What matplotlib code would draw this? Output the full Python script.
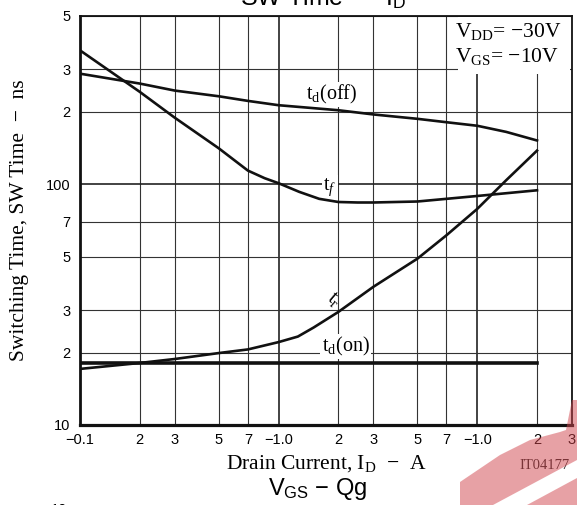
import matplotlib
matplotlib.use('Agg')
import matplotlib.pyplot as plt
from matplotlib.ticker import FixedLocator, FixedFormatter
from matplotlib.patches import Polygon, Rectangle

plt.rcParams['font.family'] = 'Liberation Sans'
plt.rcParams['mathtext.fontset'] = 'custom'
plt.rcParams['mathtext.rm'] = 'Liberation Serif'
plt.rcParams['mathtext.it'] = 'Liberation Serif:italic'
plt.rcParams['mathtext.sf'] = 'Liberation Sans'

MINUS = '\u2212'

# drain current (A, magnitude) and switching times (ns)
id_off = [0.1, 0.2, 0.3, 0.5, 0.7, 1.0, 2, 3, 5, 7, 10, 14, 20]
td_off = [288, 262, 245, 232, 222, 213, 203, 195, 187, 181, 175, 165, 152]

id_f = [0.1, 0.2, 0.3, 0.5, 0.7, 0.85, 1.0, 1.27, 1.6, 2, 2.5, 3, 5, 7, 10, 20]
t_f = [360, 242, 189, 141, 114, 106, 101, 93, 87, 84.4, 84, 84, 84.8, 87, 89.4, 94.4]

id_r = [0.1, 0.2, 0.3, 0.5, 0.7, 1.0, 1.25, 1.5, 2, 3, 5, 7, 10, 14, 20]
t_r = [17.1, 18.1, 18.8, 19.9, 20.6, 22.1, 23.3, 25.4, 29.5, 37.5, 49.1, 61.4, 79, 104, 138]

id_on = [0.1, 20]
td_on = [18.1, 18.1]

x_major = [0.1, 1, 10]
x_major_lab = [MINUS + '0.1', MINUS + '1.0', MINUS + '1.0']
x_minor = [0.2, 0.3, 0.5, 0.7, 2, 3, 5, 7, 20, 30]
x_minor_lab = ['2', '3', '5', '7', '2', '3', '5', '7', '2', '3']
y_major = [10, 100]
y_major_lab = ['10', '100']
y_minor = [20, 30, 50, 70, 200, 300, 500]
y_minor_lab = ['2', '3', '5', '7', '2', '3', '5']

W, H = 577, 505
def fx(px):
    return px / W
def fy(py):
    return 1 - py / H

fig = plt.figure(figsize=(W / 100, H / 100), dpi=100)
ax = fig.add_axes([fx(80), fy(425), (572 - 80) / W, (425 - 16) / H])
ax.set_xscale('log')
ax.set_yscale('log')
ax.set_xlim(0.1, 30)
ax.set_ylim(10, 500)

ax.xaxis.set_major_locator(FixedLocator(x_major))
ax.xaxis.set_major_formatter(FixedFormatter(x_major_lab))
ax.xaxis.set_minor_locator(FixedLocator(x_minor))
ax.xaxis.set_minor_formatter(FixedFormatter(x_minor_lab))
ax.yaxis.set_major_locator(FixedLocator(y_major))
ax.yaxis.set_major_formatter(FixedFormatter(y_major_lab))
ax.yaxis.set_minor_locator(FixedLocator(y_minor))
ax.yaxis.set_minor_formatter(FixedFormatter(y_minor_lab))
ax.tick_params(which='both', length=0, labelsize=10.5)
ax.tick_params(axis='x', which='both', pad=6)
ax.tick_params(axis='y', which='both', pad=7)

ax.set_axisbelow(True)
ax.grid(which='major', color='#222222', lw=1.2)
ax.grid(which='minor', color='#333333', lw=0.8)
for side, lw in [('left', 2.0), ('bottom', 2.3), ('top', 1.3), ('right', 1.3)]:
    ax.spines[side].set_linewidth(lw)
    ax.spines[side].set_color('#111111')

ax.plot(id_off, td_off, color='#111111', lw=1.9, zorder=4)
ax.plot(id_f, t_f, color='#111111', lw=1.9, zorder=4)
ax.plot(id_r, t_r, color='#111111', lw=1.9, zorder=4)
ax.plot(id_on, td_on, color='#111111', lw=2.6, zorder=4)

lab = dict(family='Liberation Serif', size=14.5, ha='center', va='center', zorder=3,
           bbox=dict(fc='white', ec='none', pad=1))
ax.text(1.85, 236, r'$\mathrm{t_d}$(off)', **lab)
ax.text(1.81, 97, r'$\mathrm{t}_{\mathit{f}}$', **lab)
ax.text(2.17, 21.2, r'$\mathrm{t_d}$(on)', **lab)
ax.text(1.89, 33, r'$\mathrm{t_r}$', family='Liberation Serif', size=14.5,
        ha='center', va='center', rotation=-40, zorder=3)

# condition box
fig.add_artist(Rectangle((fx(458), fy(74)), (570 - 458) / W, (74 - 17) / H,
                         transform=fig.transFigure, fc='white', ec='none', zorder=1))
fig.text(fx(455), fy(37), r'V$_{\mathrm{DD}}$= ' + MINUS + '30V', family='Liberation Serif',
         size=15.5, ha='left', va='baseline')
fig.text(fx(455), fy(62), r'V$_{\mathrm{GS}}$= ' + MINUS + '10V', family='Liberation Serif',
         size=15.5, ha='left', va='baseline')

fig.text(fx(20), fy(220), 'Switching Time, SW Time  ' + MINUS + '  ns', rotation=90,
         family='Liberation Serif', size=15.5, ha='center', va='center')
fig.text(fx(326), fy(469), r'Drain Current, I$_{\mathrm{D}}$  ' + MINUS + '  A',
         family='Liberation Serif', size=15.5, ha='center', va='baseline')
fig.text(fx(570), fy(469), 'IT04177', family='Liberation Serif', size=10.5,
         color='#222222', ha='right', va='baseline')

# cropped neighbouring titles
fig.text(fx(240), fy(5), r'SW Time  ' + MINUS + r'  I$_{\mathsf{D}}$', size=18,
         ha='left', va='baseline')
fig.text(fx(268), fy(495), r'V$_{\mathsf{GS}}$ ' + MINUS + ' Qg', size=17,
         ha='left', va='baseline')
fig.text(fx(59), fy(503), '10', size=10.5, ha='center', va='top')

# watermark remnant
wm1 = [(460, 505), (460, 482), (500, 455), (530, 440), (560, 432), (566, 430),
       (572, 400), (577, 400), (577, 460), (493, 505)]
wm2 = [(527, 505), (577, 478), (577, 505)]
for pts in (wm1, wm2):
    fig.add_artist(Polygon([(fx(a), fy(b)) for a, b in pts], closed=True,
                           transform=fig.transFigure, fc='#d1454d', ec='none',
                           alpha=0.5, zorder=10))

fig.savefig('out.png', dpi=100)
